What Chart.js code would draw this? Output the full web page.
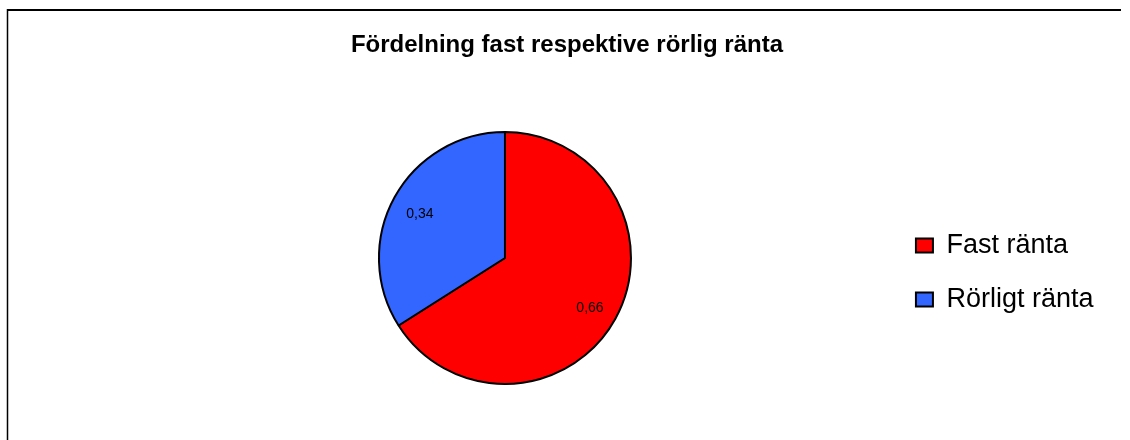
<!DOCTYPE html>
<html>
<head>
<meta charset="utf-8">
<script src="https://cdn.jsdelivr.net/npm/chart.js@4"></script>
<style>
  html, body { margin: 0; padding: 0; background: #ffffff; }
  #wrap { position: relative; width: 1130px; height: 440px; }
</style>
</head>
<body>
<div id="wrap"><canvas id="c"></canvas></div>
<script>
const chartTitle = 'Fördelning fast respektive rörlig ränta';
const categories = ['Fast ränta', 'Rörligt ränta'];
const shares = [0.66, 0.34];
const sliceColors = ['#FF0000', '#3366FF'];

const FONT = "'Liberation Sans', Arial, sans-serif";

const framePlugin = {
  id: 'frame',
  afterLayout(chart) {
    // centre the title over the framed figure, not only over the padded layout area
    const t = chart.titleBlock;
    if (t) { t.left = 4; t.right = 1130; t.width = 1126; }
  },
  beforeDraw(chart) {
    const ctx = chart.ctx;
    ctx.save();
    ctx.fillStyle = '#ffffff';
    ctx.fillRect(0, 0, chart.width, chart.height);
    ctx.strokeStyle = '#000000';
    ctx.lineWidth = 2;
    ctx.beginPath();
    ctx.moveTo(7, 10);
    ctx.lineTo(1121, 10);
    ctx.stroke();
    ctx.lineWidth = 1.5;
    ctx.beginPath();
    ctx.moveTo(7.5, 9);
    ctx.lineTo(7.5, chart.height);
    ctx.stroke();
    ctx.restore();
  }
};

const valueLabelPlugin = {
  id: 'valueLabels',
  afterDatasetsDraw(chart) {
    const ctx = chart.ctx;
    const meta = chart.getDatasetMeta(0);
    const data = chart.data.datasets[0].data;
    ctx.save();
    ctx.font = '14px ' + FONT;
    ctx.fillStyle = '#000000';
    ctx.textAlign = 'center';
    ctx.textBaseline = 'middle';
    meta.data.forEach((arc, i) => {
      const p = arc.getProps(['x', 'y', 'startAngle', 'endAngle', 'outerRadius'], true);
      const mid = (p.startAngle + p.endAngle) / 2;
      const r = p.outerRadius * 0.77;
      const txt = data[i].toFixed(2).replace('.', ',');
      ctx.fillText(txt, p.x + Math.cos(mid) * r, p.y + Math.sin(mid) * r + 3);
    });
    ctx.restore();
  }
};

new Chart(document.getElementById('c'), {
  type: 'pie',
  data: {
    labels: categories,
    datasets: [{
      data: shares,
      backgroundColor: sliceColors,
      borderColor: '#000000',
      borderWidth: 2
    }]
  },
  options: {
    responsive: true,
    maintainAspectRatio: false,
    animation: false,
    events: [],
    layout: { padding: { left: 121, right: 26.5, top: 0, bottom: 55 } },
    plugins: {
      title: {
        display: true,
        text: chartTitle,
        color: '#000000',
        font: { family: FONT, size: 24, weight: 'bold' },
        padding: { top: 30.6, bottom: 71.6 }
      },
      legend: {
        display: true,
        position: 'right',
        title: { display: true, text: ' ', font: { size: 10 }, padding: { top: 141, bottom: 7 } },
        labels: {
          color: '#000000',
          font: { family: FONT, size: 27 },
          boxWidth: 17,
          boxHeight: 14,
          padding: 27
        }
      },
      tooltip: { enabled: false }
    }
  },
  plugins: [framePlugin, valueLabelPlugin]
});
</script>
</body>
</html>
